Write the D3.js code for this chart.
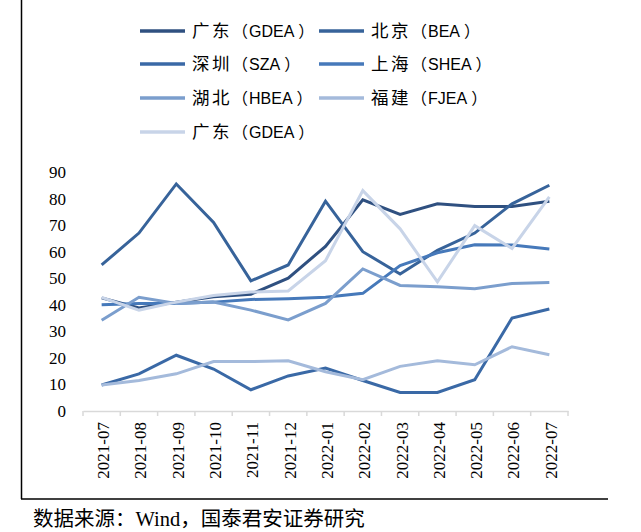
<!DOCTYPE html>
<html><head><meta charset="utf-8">
<script src="https://cdn.jsdelivr.net/npm/d3@7"></script>
<style>body{margin:0;background:#fff}svg{display:block}</style>
</head><body><svg id="c" width="641" height="532"></svg>
<script>
const categories = ["2021-07","2021-08","2021-09","2021-10","2021-11","2021-12","2022-01","2022-02","2022-03","2022-04","2022-05","2022-06","2022-07"];
const legendCn   = ["广东","北京","深圳","上海","湖北","福建","广东"];
const legendCode = ["GDEA","BEA","SZA","SHEA","HBEA","FJEA","GDEA"];
const gdea1 = [42.6,38.8,41,43,44,50,62,79.5,74,78,77,77,79];
const bea   = [55,67,85.5,71,49,55,79,60,51.6,60.5,67,78,85];
const sza   = [9.8,14,21,15.8,8,13.2,16.2,11.5,7,7,11.8,35,38.4];
const shea  = [40,40.5,40.5,41,42,42.3,42.8,44.3,54.8,59.6,62.6,62.5,61];
const hbea  = [34.2,42.8,40.5,41,38,34.3,40.5,53.5,47.3,46.8,46,48,48.4];
const fjea  = [9.8,11.5,14,18.6,18.6,18.9,14.8,11.8,16.8,18.9,17.4,24.2,21.2];
const gdea2 = [42.8,38,41,43.5,44.8,45.2,56.6,83,68.6,48.6,69.8,61.2,80.6];
const yTicks = [0,10,20,30,40,50,60,70,80,90];
const colors = ["#2f5080","#37639a","#3a69a6","#4679ba","#7b9ecd","#a4badb","#c8d4e8"];
const allSeries = [gdea1,bea,sza,shea,hbea,fjea,gdea2];

const svg = d3.select("#c");
const x = d3.scaleBand().domain(categories).range([83,568]);
const y = d3.scaleLinear().domain([0,90]).range([411,172]);
const serif = "'Liberation Serif', 'Times New Roman', serif";

// frame lines
svg.append("line").attr("x1",21.5).attr("x2",21.5).attr("y1",0).attr("y2",499).attr("stroke","#000").attr("stroke-width",1.5);
svg.append("line").attr("x1",21).attr("x2",608).attr("y1",499).attr("y2",499).attr("stroke","#000").attr("stroke-width",1.5);

// y labels
svg.selectAll(".yl").data(yTicks).enter().append("text")
  .attr("x",66).attr("y",d=>y(d)).attr("dy","0.35em").attr("text-anchor","end")
  .style("font-family",serif).attr("font-size",17).attr("fill","#000").text(d=>d);

// x axis
const xa = svg.append("g").attr("transform","translate(0,411)")
  .call(d3.axisBottom(x).tickSize(0).tickFormat(""));
xa.select(".domain").attr("stroke","#d9d9d9").attr("stroke-width",1.5);
const bounds = categories.map(c=>x(c)).concat([x.range()[1]]);
svg.selectAll(".xt").data(bounds).enter().append("line")
  .attr("x1",d=>d).attr("x2",d=>d).attr("y1",411).attr("y2",416).attr("stroke","#d9d9d9").attr("stroke-width",1.5);
svg.selectAll(".xl").data(categories).enter().append("text")
  .attr("transform",d=>`translate(${x(d)+x.bandwidth()/2+1.5},422) rotate(-90)`)
  .attr("dy","0.35em").attr("text-anchor","end")
  .style("font-family",serif).attr("font-size",17).attr("fill","#000").text(d=>d);

// lines
const line = d3.line().x((d,i)=>x(categories[i])+x.bandwidth()/2).y(d=>y(d));
allSeries.forEach((s,k)=>{
  svg.append("path").datum(s).attr("d",line).attr("fill","none")
    .attr("stroke",colors[k]).attr("stroke-width",3).attr("stroke-linejoin","miter");
});

// legend
const legPos = [[140,31],[319,31],[140,64],[319,64],[140,98],[319,98],[140,132]];
legendCn.forEach((n,k)=>{
  const [lx,ly] = legPos[k];
  svg.append("line").attr("x1",lx).attr("x2",lx+45).attr("y1",ly).attr("y2",ly)
    .attr("stroke",colors[k]).attr("stroke-width",3.5);
  const t = svg.append("text").attr("x",lx+52).attr("y",ly+6)
    .style("font-family","'Liberation Sans', 'Noto Sans CJK SC'").attr("font-size",16).attr("fill","#000");
  t.append("tspan").style("font-family","'Noto Sans CJK SC'").attr("font-size",17.5).attr("letter-spacing",2.5).text(n);
  t.append("tspan").style("font-family","'Noto Sans CJK SC'").attr("font-size",16).text("（");
  t.append("tspan").attr("dx",1).text(legendCode[k]);
  t.append("tspan").attr("dx",4).style("font-family","'Noto Sans CJK SC'").attr("font-size",16).text("）");
});

// source
svg.append("text").attr("x",33).attr("y",526)
  .style("font-family","'Liberation Serif', 'Noto Sans CJK SC'").attr("font-size",20.5).attr("fill","#000")
  .text("数据来源：Wind，国泰君安证券研究");
</script></body></html>
